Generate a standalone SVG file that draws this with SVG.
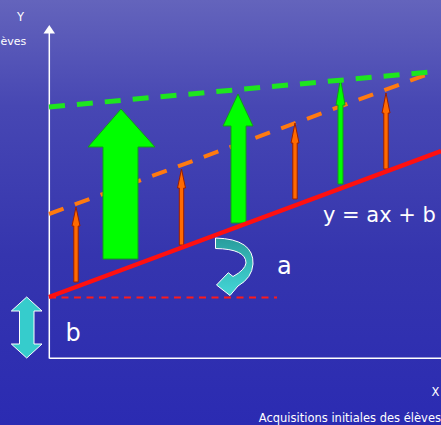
<svg xmlns="http://www.w3.org/2000/svg" width="441" height="425" viewBox="0 0 441 425">
<defs>
<linearGradient id="bg" x1="0" y1="0" x2="0" y2="1">
<stop offset="0" stop-color="#6464bc"/>
<stop offset="0.25" stop-color="#4747b3"/>
<stop offset="0.6" stop-color="#3535ae"/>
<stop offset="1" stop-color="#2b2bb2"/>
</linearGradient>
<linearGradient id="teal" x1="0" y1="0" x2="0" y2="1">
<stop offset="0" stop-color="#2a9c9c"/>
<stop offset="0.5" stop-color="#36bcbc"/>
<stop offset="1" stop-color="#44d6d6"/>
</linearGradient>
<style>
.axis{stroke:#ffffff;stroke-width:1.5;fill:none}
.txt{fill:#ffffff;font-family:"DejaVu Sans",Verdana,sans-serif}
.garrow{fill:#00ff00;stroke:#15991a;stroke-width:1}
.oarrow{fill:#ff6a00;stroke:#9a1e00;stroke-width:1}
.teal{stroke:#ffffff;stroke-width:1}
</style>
</defs>
<rect width="441" height="425" fill="url(#bg)"/>
<g id="axes">
<line class="axis" x1="49.3" y1="33" x2="49.3" y2="358.5"/>
<polygon points="49.3,25 55,33.5 43.5,33.5" fill="#ffffff"/>
<line class="axis" x1="49.3" y1="358.3" x2="441" y2="358.3"/>
</g>
<g id="connectors">
<line id="orange-dashed" x1="49" y1="214" x2="435" y2="71.5" stroke="#ff7a10" stroke-width="4" stroke-dasharray="15.5 12"/>
<line id="baseline-b" x1="49" y1="297.5" x2="277" y2="297.5" stroke="#ff1a1a" stroke-width="2" stroke-dasharray="7 5.5"/>
</g>
<g id="arrow-g1"><polygon class="garrow" points="121,109 155,147 138,147 138,259 103,259 103,147 88,147"/></g>
<g id="arrow-g2"><polygon class="garrow" points="238,94 253,126 246,126 246,223 231,223 231,126 223,126"/></g>
<g id="arrow-g3"><polygon class="garrow" points="340.5,78 345,105 343,105 343,184 338,184 338,105 336,105"/></g>
<g id="arrow-o1"><polygon class="oarrow" points="76,207 80,226 78.2,226 78.2,282 73.8,282 73.8,226 72,226"/></g>
<g id="arrow-o2"><polygon class="oarrow" points="181.5,169 185.5,188 183.7,188 183.7,245 179.3,245 179.3,188 177.5,188"/></g>
<g id="arrow-o3"><polygon class="oarrow" points="295,123 299,143 297.2,143 297.2,199 292.8,199 292.8,143 291,143"/></g>
<g id="arrow-o4"><polygon class="oarrow" points="386,93 390,113 388.2,113 388.2,169 383.8,169 383.8,113 382,113"/></g>
<g id="lines">
<line id="green-dashed" x1="49" y1="107" x2="435" y2="71.5" stroke="#1ee61e" stroke-width="5" stroke-dasharray="16 12"/>
<line id="red-line" x1="49" y1="297" x2="441" y2="151" stroke="#ff1010" stroke-width="4.5"/>
</g>
<g id="slope-arrow">
<path class="teal" fill="url(#teal)" d="M215.5,238 Q254,239 253,264 Q252,278 238,286 L230,295.5 L216.5,285 L228.3,272.7 L233,276.5 Q245,270 246,263 Q246,249 215.5,248.5 Z"/>
</g>
<g id="intercept-arrow">
<polygon class="teal" fill="#36cccc" points="26.7,297 42,311 34,311 34,344 42,344 26.7,358 11.3,344 19.5,344 19.5,311 11.3,311"/>
</g>
<g id="labels">
<text class="txt" x="20.5" y="21" font-size="11.5" text-anchor="middle">Y</text>
<text class="txt" x="0.5" y="45" font-size="11">èves</text>
<text class="txt" x="435.5" y="396" font-size="11.5" text-anchor="middle">X</text>
<text class="txt" x="441" y="421.5" font-size="11.5" text-anchor="end">Acquisitions initiales des élèves</text>
<text class="txt" x="323" y="222" font-size="21">y = ax + b</text>
<text class="txt" x="277" y="274" font-size="24">a</text>
<text class="txt" x="65.5" y="341" font-size="24">b</text>
</g>
</svg>
